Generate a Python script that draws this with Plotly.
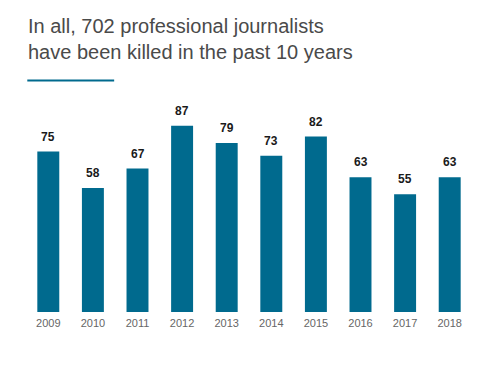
import plotly.graph_objects as go

years = ["2009", "2010", "2011", "2012", "2013", "2014", "2015", "2016", "2017", "2018"]
killed = [75, 58, 67, 87, 79, 73, 82, 63, 55, 63]

BAR = "#006a8e"
OFF = 8  # default page margin of the html body
W, H = 496 - OFF, 375 - OFF

# target pixel geometry (in page coordinates)
left, right, top, base = 25.7 - OFF, 472.4 - OFF, 97.6 - OFF, 312 - OFF
pw, ph = right - left, base - top

fig = go.Figure()
fig.add_trace(go.Bar(
    x=years, y=killed, marker=dict(color=BAR, line=dict(width=0)),
    hoverinfo="skip", showlegend=False,
))

annos = []
for i, v in enumerate(killed):
    annos.append(dict(
        x=i, y=v, xref="x", yref="y", text=f"<b>{v}</b>", showarrow=False,
        yanchor="bottom", yshift=6,
        font=dict(family="Liberation Sans, Arial, sans-serif", size=12, color="#1a1a1a"),
    ))

annos.append(dict(
    text="In all, 702 professional journalists<br>have been killed in the past 10 years",
    xref="paper", yref="paper",
    x=(26 - OFF - left) / pw, y=(base - (12 - OFF)) / ph,
    xanchor="left", yanchor="top", align="left", showarrow=False,
    font=dict(family="Liberation Sans, Arial, sans-serif", size=20, color="#4a4a4a"),
))

fig.update_layout(
    width=W, height=H,
    margin=dict(l=left, r=W - right, t=top, b=H - base, pad=0),
    paper_bgcolor="white", plot_bgcolor="white",
    bargap=0.5075,
    annotations=annos,
    xaxis=dict(
        type="category", range=[-0.5, 9.5], showgrid=False, zeroline=False,
        showline=False, ticks="", fixedrange=True, ticklabelstandoff=3,
        tickfont=dict(family="Liberation Sans, Arial, sans-serif", size=11, color="#666666"),
    ),
    yaxis=dict(range=[0, 100], visible=False, fixedrange=True),
    shapes=[dict(
        type="line", xref="paper", yref="paper",
        x0=(27 - OFF - left) / pw, x1=(114 - OFF - left) / pw,
        y0=(base - (80 - OFF)) / ph, y1=(base - (80 - OFF)) / ph,
        line=dict(color=BAR, width=2),
    )],
)

fig.write_html("out.html")
